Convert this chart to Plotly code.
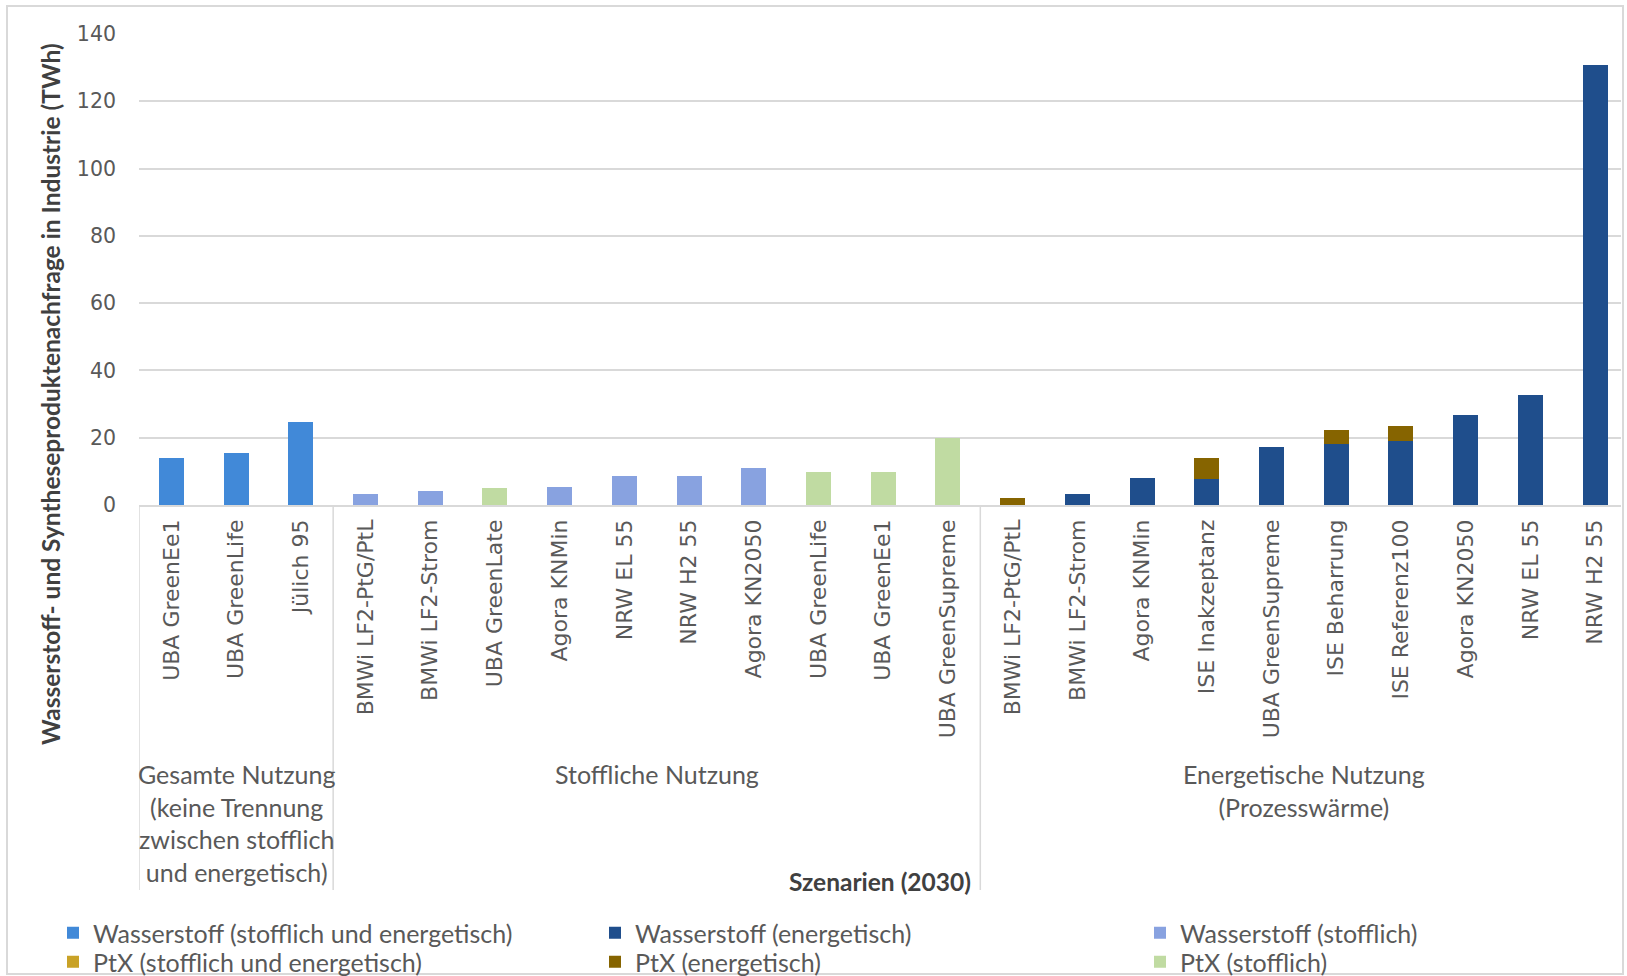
import plotly.graph_objects as go

# ---------------- data ----------------
labels = ["UBA GreenEe1", "UBA GreenLife", "Jülich 95",
          "BMWi LF2-PtG/PtL", "BMWi LF2-Strom", "UBA GreenLate", "Agora KNMin", "NRW EL 55",
          "NRW H2 55", "Agora KN2050", "UBA GreenLife", "UBA GreenEe1", "UBA GreenSupreme",
          "BMWi LF2-PtG/PtL", "BMWi LF2-Strom", "Agora KNMin", "ISE Inakzeptanz",
          "UBA GreenSupreme", "ISE Beharrung", "ISE Referenz100", "Agora KN2050",
          "NRW EL 55", "NRW H2 55"]

groups = ["Gesamte Nutzung<br>(keine Trennung<br>zwischen stofflich<br>und energetisch)",
          "Stoffliche Nutzung",
          "Energetische Nutzung<br>(Prozesswärme)"]
group_sizes = [3, 10, 10]

ws_se = [14, 15.4, 24.8] + [None] * 20
ws_e = [None] * 14 + [3.2, 8.1, 7.7, 17.3, 18.0, 19.1, 26.8, 32.7, 130.9]
ws_s = [None] * 3 + [3.2, 4.2, None, 5.3, 8.6, 8.6, 11.1, None, None, None] + [None] * 10
ptx_se = [None] * 23
ptx_e = [None] * 13 + [2.0, None, None, 6.2, None, 4.3, 4.4, None, None, None]
ptx_s = [None] * 5 + [5.0] + [None] * 4 + [9.8, 9.8, 19.8] + [None] * 10

series_names = ["Wasserstoff (stofflich und energetisch)", "Wasserstoff (energetisch)",
                "Wasserstoff (stofflich)", "PtX (stofflich und energetisch)",
                "PtX (energetisch)", "PtX (stofflich)"]
series_values = [ws_se, ws_e, ws_s, ptx_se, ptx_e, ptx_s]
series_colors = ["#4189D8", "#1F4E8C", "#88A2E0", "#C9A227", "#866400", "#C0DBA2"]

y_ticks = [0, 20, 40, 60, 80, 100, 120, 140]

# ---------------- geometry helpers ----------------
W, H = 1627, 976
L, R, T, B = 139, 1621, 34, 505   # plot area in px


def px_x(px):
    return (px - L) / (R - L)


def px_y(py):
    return (B - py) / (B - T)


x = list(range(len(labels)))

# legend slots: 3 columns x 2 rows (pixel positions of legend boxes)
legend_cols = [53, 595, 1140]
legend_rows = [933, 962]

fig = go.Figure()
GRAY = "#595959"
legend_layouts = {}
for i, (name, vals, col) in enumerate(zip(series_names, series_values, series_colors)):
    key = "legend" if i == 0 else f"legend{i + 1}"
    fig.add_trace(go.Bar(x=x, y=vals, name=name, marker=dict(color=col, line=dict(width=0)),
                         legend=key))
    legend_layouts[key] = dict(
        orientation="v", xref="container", yref="container",
        x=legend_cols[i % 3] / W, y=1 - legend_rows[i // 3] / H,
        xanchor="left", yanchor="middle",
        font=dict(family="Lato", size=25, color=GRAY), itemwidth=30,
        borderwidth=0, bgcolor="rgba(0,0,0,0)")

fig.update_layout(
    width=W, height=H,
    margin=dict(l=L, r=W - R, t=T, b=H - B, autoexpand=False),
    paper_bgcolor="white", plot_bgcolor="white",
    barmode="stack", bargap=0.614,
    showlegend=True,
    xaxis=dict(range=[-0.5, len(labels) - 0.6], tickmode="array", tickvals=x, ticktext=labels,
               tickangle=-90, showgrid=False, zeroline=False, showline=True,
               linecolor="#D9D9D9", linewidth=1.5, ticks="", ticklabelstandoff=4,
               automargin=False,
               tickfont=dict(family="DejaVu Sans", size=22, color=GRAY)),
    yaxis=dict(range=[0, 140], tickvals=y_ticks, showgrid=True, gridcolor="#D9D9D9",
               gridwidth=1.5, zeroline=False, showline=False, ticks="",
               ticklabelstandoff=22, automargin=False,
               tickfont=dict(family="DejaVu Sans", size=20.5, color=GRAY)),
    **legend_layouts,
)

# group labels and dividers
start = 0
centers = []
bounds = [-0.5]
for g, n in zip(groups, group_sizes):
    centers.append(start + (n - 1) / 2)
    start += n
    bounds.append(start - 0.5)

for g, c in zip(groups, centers):
    fig.add_annotation(x=c, xref="x", y=px_y(757), yref="paper", text=g, showarrow=False,
                       xanchor="center", yanchor="top", align="center",
                       font=dict(family="Lato", size=25, color=GRAY))

for bx in bounds[:-1]:
    fig.add_shape(type="line", xref="x", yref="paper", x0=bx, x1=bx,
                  y0=px_y(506), y1=px_y(890), line=dict(color="#D9D9D9", width=1.5))

# x-axis title
fig.add_annotation(x=px_x(973), xref="paper", y=px_y(881), yref="paper",
                   text="<b>Szenarien (2030)</b>", showarrow=False, xanchor="right",
                   yanchor="middle", font=dict(family="Lato", size=24.5, color="#404040"))

# y-axis title
fig.add_annotation(x=px_x(50), xref="paper", y=px_y(394), yref="paper",
                   text="<b>Wasserstoff- und Syntheseproduktenachfrage in Industrie (TWh)</b>",
                   textangle=-90, showarrow=False, xanchor="center", yanchor="middle",
                   font=dict(family="Lato", size=24.5, color="#404040"))

# outer border
fig.add_shape(type="rect", xref="paper", yref="paper",
              x0=px_x(7), x1=px_x(1623), y0=px_y(974), y1=px_y(6),
              line=dict(color="#D9D9D9", width=2), fillcolor="rgba(0,0,0,0)", layer="below")

fig.write_html("out.html")
